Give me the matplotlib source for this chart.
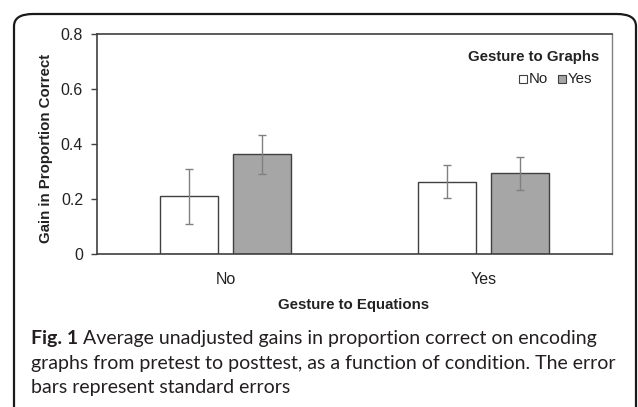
import matplotlib
matplotlib.use("Agg")
import matplotlib.pyplot as plt
from matplotlib.patches import FancyBboxPatch, Rectangle
import numpy as np

categories = ["No", "Yes"]
series_names = ["No", "Yes"]
gain_no = [0.21, 0.262]
gain_yes = [0.362, 0.293]
se_no = [0.10, 0.06]
se_yes = [0.07, 0.061]
yticks = [0, 0.2, 0.4, 0.6, 0.8]
ytick_labels = ["0", "0.2", "0.4", "0.6", "0.8"]

W, H = 638, 407
fig = plt.figure(figsize=(W / 100, H / 100), dpi=100)
fig.patch.set_facecolor("white")

def fx(px):
    return px / W

def fy(py):
    return 1 - py / H

# rounded frame
box = FancyBboxPatch((fx(14), fy(425)), fx(636) - fx(14), fy(14) - fy(425),
                     boxstyle="round,pad=0,rounding_size=0.03",
                     transform=fig.transFigure, fill=False, edgecolor="#1a1a1a",
                     linewidth=1.6, clip_on=False)
fig.patches.append(box)

ax = fig.add_axes([fx(97), fy(254), fx(612) - fx(97), fy(34) - fy(254)])
x = np.arange(len(categories))
bw = 0.225
off = 0.142
ax.bar(x - off, gain_no, bw, color="white", edgecolor="#404040", linewidth=1.0, zorder=2)
ax.bar(x + off, gain_yes, bw, color="#a6a6a6", edgecolor="#404040", linewidth=1.0, zorder=2)
ax.errorbar(x - off, gain_no, yerr=se_no, fmt="none", ecolor="#808080", elinewidth=1.0,
            capsize=3, capthick=1.0, zorder=3)
ax.errorbar(x + off, gain_yes, yerr=se_yes, fmt="none", ecolor="#808080", elinewidth=1.0,
            capsize=3, capthick=1.0, zorder=3)

ax.set_xlim(-0.5, 1.5)
ax.set_ylim(0, 0.8)
ax.set_yticks(yticks)
ax.set_yticklabels(ytick_labels)
ax.set_xticks(x)
ax.set_xticklabels(categories)
font = "Liberation Sans"
for lab in ax.get_yticklabels() + ax.get_xticklabels():
    lab.set_fontfamily(font)
    lab.set_fontsize(11.5)
    lab.set_color("#222222")
ax.tick_params(axis="x", length=0, pad=13)
ax.tick_params(axis="y", length=4, width=1.0, color="#404040", pad=6)
for s in ["left", "bottom", "top"]:
    ax.spines[s].set_color("#404040")
    ax.spines[s].set_linewidth(1.2)
ax.spines["right"].set_color("#808080")
ax.spines["right"].set_linewidth(1.0)

lab_fs = 10.8
fig.text(fx(46), fy(148), "Gain in Proportion Correct", rotation=90,
         ha="center", va="center", fontfamily=font, fontweight="bold", fontsize=lab_fs,
         color="#222222")
fig.text(fx(354), fy(304.5), "Gesture to Equations", ha="center", va="center",
         fontfamily=font, fontweight="bold", fontsize=lab_fs, color="#222222")

# legend
fig.text(fx(599), fy(61), "Gesture to Graphs", ha="right", va="baseline",
         fontfamily=font, fontweight="bold", fontsize=lab_fs, color="#222222")
sq = 8
for name, color, xs, xt in [(series_names[0], "white", 519, 529), (series_names[1], "#a6a6a6", 558, 568)]:
    r = Rectangle((fx(xs), fy(79 + sq / 2)), fx(sq), fy(0) - fy(sq), transform=fig.transFigure,
                  facecolor=color, edgecolor="#404040", linewidth=0.8)
    fig.patches.append(r)
    fig.text(fx(xt), fy(83), name, ha="left", va="baseline", fontfamily=font,
             fontsize=lab_fs, color="#222222")

# caption
cap_font = "Lato"
lines = [
    "Average unadjusted gains in proportion correct on encoding",
    "graphs from pretest to posttest, as a function of condition. The error",
    "bars represent standard errors",
]
cap_left, cap_right = 31, 616
base_fs = 14
probe = fig.text(0, 0, lines[1], fontfamily=cap_font, fontsize=base_fs)
fig.canvas.draw()
wpx = probe.get_window_extent().width
probe.remove()
cap_fs = base_fs * (cap_right - cap_left) / wpx
cap_col = "#231f20"

t = fig.text(fx(cap_left), fy(344), "Fig. 1", ha="left", va="baseline", fontfamily=cap_font,
             fontweight="bold", fontsize=cap_fs, color=cap_col)
fig.canvas.draw()
bb = t.get_window_extent()
x0 = bb.x1 / W + fx(5)
fig.text(x0, fy(344), lines[0], ha="left", va="baseline", fontfamily=cap_font,
         fontsize=cap_fs, color=cap_col)
fig.text(fx(cap_left), fy(369), lines[1], ha="left", va="baseline", fontfamily=cap_font,
         fontsize=cap_fs, color=cap_col)
fig.text(fx(cap_left), fy(393), lines[2], ha="left", va="baseline", fontfamily=cap_font,
         fontsize=cap_fs, color=cap_col)

fig.savefig("out.png", dpi=100)
